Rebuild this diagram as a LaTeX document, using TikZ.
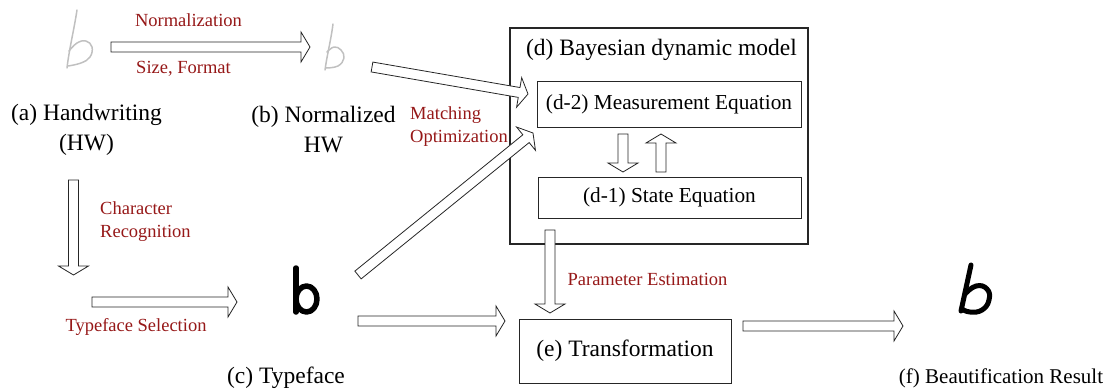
\documentclass[tikz,border=0pt]{standalone}
\usepackage{fontspec}
\setmainfont{Liberation Serif}
\usetikzlibrary{calc}
\definecolor{labelred}{RGB}{150,24,24}
\definecolor{inkgray}{RGB}{192,192,192}

\tikzset{
  caption/.style={font=\fontsize{23.5}{30}\selectfont, align=center, inner sep=0},
  boxtext/.style={font=\fontsize{21.3}{26}\selectfont},
  redlabel/.style={text=labelred, font=\fontsize{18.5}{23}\selectfont, inner sep=0},
  panel/.style={draw=black!85, line width=1pt, inner sep=0},
  fatarrow/.style={draw=black!85, fill=white, line width=0.8pt, line join=miter},
  pen/.style={draw=inkgray, line width=1.5pt, line cap=round, line join=round},
  glyph/.style={draw=black, line cap=round, line join=round},
}
% hollow block arrow from #1 to #2
\newcommand\fatarrow[2]{%
  \path[fatarrow] let \p1=(#1), \p2=(#2),
    \n1={atan2(\y2-\y1,\x2-\x1)}, \n2={veclen(\x2-\x1,\y2-\y1)} in
    [shift={(\p1)}, rotate=\n1]
    (0,5) -- (\n2-9,5) -- (\n2-9,15) -- (\n2,0) -- (\n2-9,-15) -- (\n2-9,-5) -- (0,-5) -- cycle;}

\begin{document}
\begin{tikzpicture}[x=1pt, y=-1pt]
\useasboundingbox (0,0) rectangle (1109,391);

% ---------- handwritten input ----------
\draw[pen] (77,10) .. controls (74,30) and (69,50) .. (67,68);
\draw[pen] plot[smooth, tension=0.7] coordinates {(69,51) (77,43) (86,41) (92,47) (90,57) (81,63) (68,66)};
\node[caption] (hw) at (86.5,130) {(a) Handwriting\\(HW)};

% ---------- normalized handwriting ----------
\draw[pen] (333,24) .. controls (331,40) and (327,55) .. (325,70);
\draw[pen] plot[smooth, tension=0.7] coordinates {(327,52) (334,47) (341,50) (344,58) (338,66) (326,68)};
\node[caption] (nhw) at (323.5,130) {(b) Normalized\\HW};

% ---------- typeface ----------
\draw[glyph, line width=5.5] (296,268) -- (296,312);
\draw[glyph, line width=5.5] (306.5,299) ellipse [x radius=10.5pt, y radius=13pt];
\node[caption] (tf) at (286,378) {(c) Typeface};

% ---------- beautified result ----------
\draw[glyph, line width=5] (971,265) -- (961,311);
\draw[glyph, line width=5] plot[smooth, tension=0.8] coordinates {(965,294) (976,286) (987,289) (989,300) (982,310) (970,312) (962,309)};
\node[caption, font=\fontsize{21}{26}\selectfont] (res) at (1001,378) {(f) Beautification Result};

% ---------- Bayesian dynamic model ----------
\node[panel, line width=1.4pt, minimum width=298, minimum height=216] (dm) at (659,136) {};
\node[caption] (dmt) at (661.5,50) {(d) Bayesian dynamic model};
\node[panel, boxtext, minimum width=264, minimum height=46] (meas) at (669,104) {(d-2) Measurement Equation};
\node[panel, boxtext, minimum width=263, minimum height=41] (state) at (669.5,197.5) {(d-1) State Equation};

% ---------- transformation ----------
\node[panel, caption, minimum width=212, minimum height=64] (tr) at (625,351) {(e) Transformation};

% ---------- arrow end points ----------
\coordinate (n1) at (111,47);    \coordinate (n2) at (310,47);
\coordinate (m1) at (372,67);    \coordinate (m2) at (528,94);
\coordinate (g1) at (358,275);   \coordinate (g2) at (533,133);
\coordinate (r1) at (73.5,180);  \coordinate (r2) at (73.5,275);
\coordinate (s1) at (92,302);    \coordinate (s2) at (237,302);
\coordinate (c1) at (358,321);   \coordinate (c2) at (505,321);
\coordinate (p1) at (550,230);   \coordinate (p2) at (550,313);
\coordinate (f1) at (743,326);   \coordinate (f2) at (903,326);
\coordinate (dd1) at (623,134);  \coordinate (dd2) at (623,172);
\coordinate (uu1) at (661,172);  \coordinate (uu2) at (661,134);

% ---------- arrows ----------
\fatarrow{n1}{n2}
\fatarrow{m1}{m2}
\fatarrow{g1}{g2}
\fatarrow{r1}{r2}
\fatarrow{s1}{s2}
\fatarrow{c1}{c2}
\fatarrow{p1}{p2}
\fatarrow{f1}{f2}
\fatarrow{dd1}{dd2}
\fatarrow{uu1}{uu2}

% ---------- arrow labels ----------
\node[redlabel] (lnorm) at (188.5,20) {Normalization};
\node[redlabel] (lsize) at (183.5,69) {Size, Format};
\node[redlabel, align=left, anchor=west] (lmatch) at (410,126.5) {Matching\\Optimization};
\node[redlabel, align=left, anchor=west] (lrec) at (100,222) {Character\\Recognition};
\node[redlabel] (lsel) at (136,327) {Typeface Selection};
\node[redlabel] (lpar) at (647.5,279) {Parameter Estimation};
\end{tikzpicture}
\end{document}
